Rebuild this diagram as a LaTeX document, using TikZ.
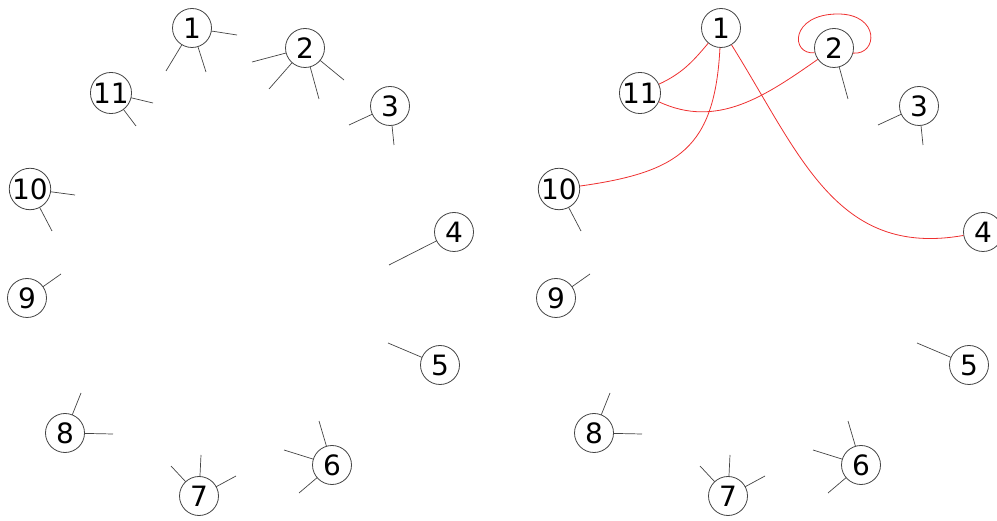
\documentclass[tikz,border=0pt]{standalone}
\usepackage{fontspec}
\setmainfont{DejaVu Sans}
\definecolor{edgegray}{HTML}{444444}
\definecolor{edgered}{RGB}{238,48,48}
\begin{document}
\begin{tikzpicture}[x=1pt,y=-1pt,
  vtx/.style={circle,draw=edgegray,line width=0.8pt,minimum size=39pt,inner sep=0pt,
    font=\fontsize{28}{28}\selectfont,fill=white},
  stub/.style={draw=edgegray,line width=0.7pt},
  rededge/.style={draw=edgered,line width=0.8pt}]
\useasboundingbox (0,0) rectangle (997,521);
\clip (0,0) rectangle (997,521);

% ---------- left graph ----------
\begin{scope}
\draw[stub] (192,28) -- (237,35) coordinate (a1s1);
\draw[stub] (192,28) -- (166,71) coordinate (a1s2);
\draw[stub] (192,28) -- (206,72) coordinate (a1s3);
\draw[stub] (111,93) -- (153,103) coordinate (a11s1);
\draw[stub] (111,93) -- (136,126) coordinate (a11s2);
\draw[stub] (30,189) -- (75,195) coordinate (a10s1);
\draw[stub] (30,189) -- (52,231) coordinate (a10s2);
\draw[stub] (305,48) -- (252,62) coordinate (a2s1);
\draw[stub] (305,48) -- (269,89) coordinate (a2s2);
\draw[stub] (305,48) -- (319,99) coordinate (a2s3);
\draw[stub] (305,48) -- (344,80) coordinate (a2s4);
\draw[stub] (390,106) -- (349,125) coordinate (a3s1);
\draw[stub] (390,106) -- (394,145) coordinate (a3s2);
\draw[stub] (454,232) -- (389,265) coordinate (a4s1);
\draw[stub] (27,298) -- (61,274) coordinate (a9s1);
\draw[stub] (65,433) -- (81,393) coordinate (a8s1);
\draw[stub] (65,433) -- (113,434) coordinate (a8s2);
\draw[stub] (199,496) -- (171,466) coordinate (a7s1);
\draw[stub] (199,496) -- (201,455) coordinate (a7s2);
\draw[stub] (199,496) -- (236,476) coordinate (a7s3);
\draw[stub] (440,365) -- (388,343) coordinate (a5s1);
\draw[stub] (332,465) -- (319,421) coordinate (a6s1);
\draw[stub] (332,465) -- (284,450) coordinate (a6s2);
\draw[stub] (332,465) -- (299,493) coordinate (a6s3);
\node[vtx] (a1) at (192,28) {1};
\node[vtx] (a2) at (305,48) {2};
\node[vtx] (a3) at (390,106) {3};
\node[vtx] (a4) at (454,232) {4};
\node[vtx] (a5) at (440,365) {5};
\node[vtx] (a6) at (332,465) {6};
\node[vtx] (a7) at (199,496) {7};
\node[vtx] (a8) at (65,433) {8};
\node[vtx] (a9) at (27,298) {9};
\node[vtx] (a10) at (30,189) {10};
\node[vtx] (a11) at (111,93) {11};
\end{scope}

% ---------- right graph ----------
\begin{scope}[xshift=529pt]
\draw[stub] (30,189) -- (52,231) coordinate (b10s2);
\draw[stub] (305,48) -- (319,99) coordinate (b2s3);
\draw[stub] (390,106) -- (349,125) coordinate (b3s1);
\draw[stub] (390,106) -- (394,145) coordinate (b3s2);
\draw[stub] (27,298) -- (61,274) coordinate (b9s1);
\draw[stub] (65,433) -- (81,393) coordinate (b8s1);
\draw[stub] (65,433) -- (113,434) coordinate (b8s2);
\draw[stub] (199,496) -- (171,466) coordinate (b7s1);
\draw[stub] (199,496) -- (201,455) coordinate (b7s2);
\draw[stub] (199,496) -- (236,476) coordinate (b7s3);
\draw[stub] (440,365) -- (388,343) coordinate (b5s1);
\draw[stub] (332,465) -- (319,421) coordinate (b6s1);
\draw[stub] (332,465) -- (284,450) coordinate (b6s2);
\draw[stub] (332,465) -- (299,493) coordinate (b6s3);
\node[vtx] (b1) at (192,28) {1};
\node[vtx] (b2) at (305,48) {2};
\node[vtx] (b3) at (390,106) {3};
\node[vtx] (b4) at (454,232) {4};
\node[vtx] (b5) at (440,365) {5};
\node[vtx] (b6) at (332,465) {6};
\node[vtx] (b7) at (199,496) {7};
\node[vtx] (b8) at (65,433) {8};
\node[vtx] (b9) at (27,298) {9};
\node[vtx] (b10) at (30,189) {10};
\node[vtx] (b11) at (111,93) {11};
% red edges
\draw[rededge] (b1) to[out=-130,in=25] (b11);
\draw[rededge] (b1) to[out=-93,in=8,looseness=1.3] (b10);
\draw[rededge] (b1) to[out=-58,in=190,looseness=1.1] (b4);
\draw[rededge] (b11) to[out=-25,in=215] (b2);
\draw[rededge] (b2.194) .. controls (261,55) and (261,14) .. (309,14)
   .. controls (351,14) and (349,55) .. (b2.-15);
\end{scope}
\end{tikzpicture}
\end{document}
